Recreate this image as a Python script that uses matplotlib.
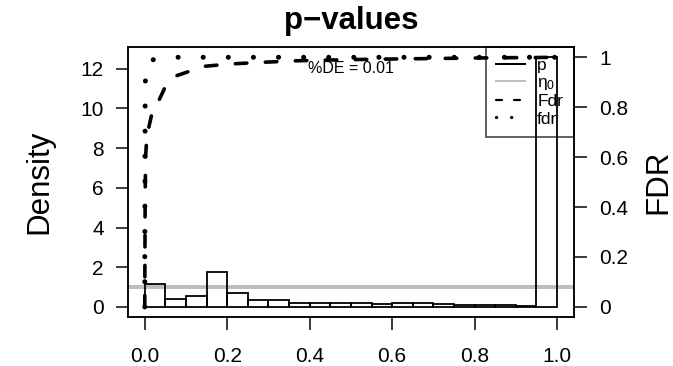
import numpy as np
import matplotlib
matplotlib.use("Agg")
import matplotlib.pyplot as plt
from matplotlib.lines import Line2D

plt.rcParams['font.family'] = ['Liberation Sans', 'DejaVu Sans']
plt.rcParams['mathtext.fontset'] = 'custom'
plt.rcParams['mathtext.rm'] = 'Liberation Sans'
plt.rcParams['mathtext.it'] = 'Liberation Sans'
plt.rcParams['lines.scale_dashes'] = False

# ---------------- data ----------------
hist_density = [1.15, 0.40, 0.565, 1.75, 0.70, 0.33, 0.35, 0.21, 0.21, 0.21,
                0.21, 0.17, 0.22, 0.18, 0.13, 0.10, 0.10, 0.10, 0.05, 12.58]
pi0 = 0.98
p_Fdr = [0, 0.0003, 0.0006, 0.001, 0.002, 0.005, 0.016, 0.032, 0.049, 0.077,
         0.112, 0.146, 0.206, 0.287, 0.369, 0.45, 0.55, 0.65, 0.75, 0.85, 0.95, 1.0]
Fdr = [0, 0.15, 0.30, 0.45, 0.60, 0.684, 0.765, 0.819, 0.879, 0.926,
       0.946, 0.964, 0.973, 0.980, 0.986, 0.989, 0.992, 0.994, 0.996, 0.998, 0.999, 1.0]
p_fdr = [0, 0.0002, 0.0005, 0.001, 0.002, 0.004, 0.02, 0.05, 0.2, 0.5, 0.8, 1.0]
fdr = [0, 0.30, 0.60, 0.85, 0.95, 0.973, 0.99, 1.0, 1.0, 1.0, 1.0, 1.0]
x_ticks = [0.0, 0.2, 0.4, 0.6, 0.8, 1.0]
x_ticklabels = ["0.0", "0.2", "0.4", "0.6", "0.8", "1.0"]
y_ticks = [0, 2, 4, 6, 8, 10, 12]
fdr_ticks = [0, 0.2, 0.4, 0.6, 0.8, 1.0]
fdr_ticklabels = ["0", "0.2", "0.4", "0.6", "0.8", "1"]
pct_de = 0.01

# ---------------- figure ----------------
px = 72 / 100.0
fig = plt.figure(figsize=(6.73, 3.66), dpi=100)
ax = fig.add_axes([0.1906, 0.1342, 0.6616, 0.7366])

nb = len(hist_density)
edges = np.linspace(0, 1, nb + 1)
ymax = max(hist_density)

ax.axhline(pi0, color='#BEBEBE', lw=4 * px, zorder=1)
ax.bar(edges[:-1], hist_density, width=np.diff(edges), align='edge',
       fill=False, edgecolor='black', linewidth=1.8 * px, zorder=2)
ax.set_xlim(-0.04, 1.04)
ax.set_ylim(-0.04 * ymax, 1.04 * ymax)
ax.set_xticks(x_ticks)
ax.set_xticklabels(x_ticklabels)
ax.set_yticks(y_ticks)
ax.tick_params(axis='both', direction='out', length=12.5 * px, width=1.5 * px,
               labelsize=15, color='black')
ax.tick_params(axis='x', pad=13)
ax.tick_params(axis='y', pad=8.6)
for s in ax.spines.values():
    s.set_linewidth(1.5 * px)
ax.text(0.5, 12, '%DE = ' + str(pct_de), ha='center', va='center', fontsize=11.5)
ax.set_title('p\u2212values', fontsize=22.5, fontweight='bold', pad=13)

ax2 = ax.twinx()
ax2.set_ylim(-0.04, 1.04)
ax2.set_yticks(fdr_ticks)
ax2.set_yticklabels(fdr_ticklabels)
ax2.tick_params(axis='y', direction='out', length=12.5 * px, width=1.5 * px,
                labelsize=15, pad=9.4)
for s in ax2.spines.values():
    s.set_linewidth(1.5 * px)

l1, = ax2.plot(p_Fdr, Fdr, color='black', lw=3.6 * px, solid_capstyle='round',
               dash_capstyle='round', zorder=3)
l1.set_dashes([11.5 * px, 18.5 * px])
l2, = ax2.plot(p_fdr, fdr, color='black', lw=5 * px, dash_capstyle='round',
               zorder=3)
l2.set_dashes([0.1 * px, 25 * px])

fig.text(47.3 / 673, 0.5025, 'Density', rotation=90, rotation_mode='anchor',
         ha='center', va='baseline', fontsize=22.5)
fig.text(666.5 / 673, 0.5025, 'FDR', rotation=90, rotation_mode='anchor',
         ha='center', va='baseline', fontsize=22.5)

h_p = Line2D([], [], color='black', lw=2 * px)
h_eta = Line2D([], [], color='#BEBEBE', lw=2 * px)
h_F = Line2D([], [], color='black', lw=2.2 * px, dash_capstyle='round')
h_F.set_dashes([6 * px, 12 * px])
h_f = Line2D([], [], color='black', lw=3.3 * px, dash_capstyle='round')
h_f.set_dashes([0.1 * px, 15 * px])
leg = ax2.legend([h_p, h_eta, h_F, h_f], ['p', 'η$_0$', 'Fdr', 'fdr'],
                 loc='upper right', bbox_to_anchor=(1, 1), borderaxespad=0,
                 frameon=True, fancybox=False, edgecolor='black',
                 facecolor='none', fontsize=12.5, handlelength=1.65,
                 handletextpad=0.7, borderpad=0.6, labelspacing=0.12)
leg.get_frame().set_linewidth(1.5 * px)
leg.set_zorder(1)

fig.savefig('out.png', dpi=100)
